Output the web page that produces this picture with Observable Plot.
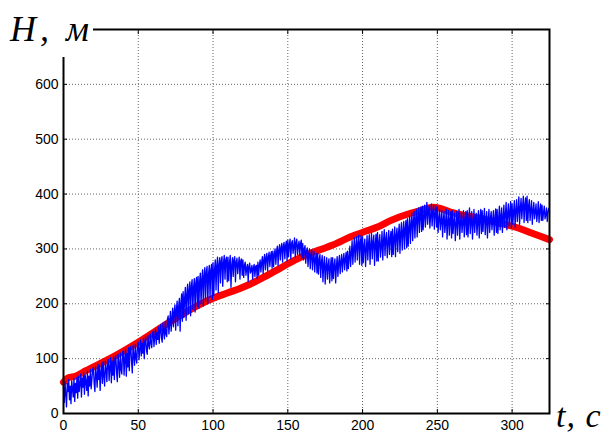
<!DOCTYPE html>
<html><head><meta charset="utf-8">
<script src="https://cdn.jsdelivr.net/npm/d3@7"></script>
<script src="https://cdn.jsdelivr.net/npm/@observablehq/plot@0.6"></script>
<style>body{margin:0;background:#fff;}</style>
</head><body><div id="chart"></div>
<script>
const xTicks = [0, 50, 100, 150, 200, 250, 300];
const yTicks = [0, 100, 200, 300, 400, 500, 600];
const xLabel = "t, с";
const yLabel = "H, м";

// red (smooth) curve
const redT = [0, 3, 8, 15, 31, 50, 70, 92, 100, 110, 118, 125, 135, 145, 155, 165, 173, 180, 192, 203, 210, 219, 232, 240, 247, 252, 260, 270, 280, 290, 303, 312, 318, 325];
const redH = [57, 65, 68, 78, 100, 130, 165, 200, 210, 220, 228, 236, 250, 265, 280, 292, 300, 307, 322, 333, 340, 352, 365, 371, 376, 374, 366, 360, 355, 348, 339, 330, 324, 317];

// blue (noisy) signal, two samples per second from t = 0
const blueStep = 0.5;
const blueH = [
  48, 20, 58, 35, 12, 55, 40, 62, 25, 50, 18, 60, 45, 30, 64, 22, 55, 38, 66, 28,
  68, 40, 55, 72, 30, 65, 48, 74, 35, 70, 58, 42, 77, 32, 68, 50, 80, 45, 62, 82,
  84, 55, 40, 86, 70, 48, 90, 62, 88, 42, 75, 92, 55, 94, 68, 50, 95, 80, 58, 97,
  98, 60, 85, 102, 56, 95, 70, 104, 62, 100, 106, 75, 58, 108, 90, 66, 110, 80, 72, 112,
  114, 70, 100, 117, 68, 110, 85, 120, 78, 118, 122, 95, 74, 124, 105, 88, 126, 100, 92, 128,
  130, 98, 118, 134, 105, 128, 110, 137, 100, 132, 140, 115, 108, 142, 125, 118, 145, 130, 120, 147,
  150, 122, 140, 154, 126, 148, 135, 158, 128, 152, 162, 138, 130, 165, 150, 136, 168, 145, 140, 172,
  178, 145, 165, 186, 150, 175, 192, 158, 185, 198, 152, 190, 205, 160, 195, 210, 150, 200, 218, 168,
  222, 175, 210, 230, 170, 218, 236, 182, 225, 240, 178, 232, 244, 190, 230, 246, 185, 238, 248, 195,
  250, 192, 240, 256, 200, 245, 262, 196, 252, 266, 205, 258, 268, 200, 255, 270, 212, 262, 272, 208,
  275, 215, 262, 280, 225, 270, 285, 220, 272, 284, 238, 278, 286, 232, 275, 288, 245, 280, 285, 240,
  285, 242, 275, 288, 230, 270, 284, 250, 280, 286, 240, 276, 283, 255, 272, 285, 245, 278, 282, 252,
  280, 248, 270, 276, 252, 265, 272, 240, 268, 274, 256, 262, 270, 245, 266, 272, 250, 268, 270, 246,
  276, 252, 270, 280, 258, 275, 286, 255, 280, 290, 262, 284, 292, 260, 285, 294, 268, 288, 295, 265,
  296, 268, 290, 300, 272, 295, 305, 270, 298, 308, 280, 302, 310, 276, 305, 312, 282, 306, 314, 278,
  316, 286, 308, 318, 282, 310, 315, 292, 305, 320, 285, 312, 318, 290, 306, 314, 288, 310, 316, 284,
  310, 280, 300, 306, 274, 296, 302, 268, 290, 300, 264, 288, 298, 262, 284, 295, 258, 282, 292, 256,
  292, 254, 280, 290, 248, 276, 288, 240, 272, 286, 236, 268, 284, 245, 270, 282, 238, 266, 284, 242,
  284, 246, 270, 282, 238, 268, 286, 250, 274, 288, 255, 276, 290, 258, 280, 292, 262, 282, 294, 260,
  296, 264, 285, 305, 268, 292, 315, 272, 300, 320, 276, 305, 322, 280, 310, 325, 272, 312, 324, 270,
  322, 275, 305, 318, 268, 300, 324, 280, 310, 326, 272, 306, 328, 282, 312, 325, 270, 308, 327, 278,
  330, 278, 312, 326, 285, 305, 332, 280, 315, 335, 288, 318, 330, 284, 312, 334, 290, 320, 332, 286,
  336, 290, 320, 340, 286, 325, 338, 295, 328, 345, 292, 330, 348, 298, 332, 350, 300, 336, 352, 302,
  355, 305, 338, 360, 310, 345, 365, 315, 350, 368, 320, 355, 372, 322, 358, 375, 330, 362, 376, 332,
  378, 335, 360, 380, 340, 365, 385, 345, 370, 378, 338, 362, 382, 342, 368, 380, 336, 365, 378, 340,
  376, 330, 355, 372, 335, 350, 370, 322, 352, 368, 330, 348, 372, 318, 350, 370, 325, 352, 368, 320,
  370, 328, 350, 365, 315, 345, 368, 325, 355, 372, 318, 350, 366, 330, 348, 370, 322, 352, 368, 326,
  370, 322, 352, 375, 328, 350, 368, 318, 348, 372, 330, 355, 365, 325, 350, 370, 320, 354, 372, 328,
  370, 332, 355, 374, 326, 352, 368, 320, 350, 372, 330, 356, 368, 335, 352, 370, 325, 355, 373, 330,
  372, 328, 356, 378, 335, 360, 375, 330, 358, 380, 340, 362, 385, 335, 365, 382, 342, 368, 386, 338,
  382, 345, 368, 388, 340, 370, 390, 350, 372, 395, 345, 375, 392, 355, 378, 396, 348, 380, 393, 352,
  396, 348, 378, 390, 352, 372, 388, 345, 370, 385, 355, 368, 382, 350, 366, 386, 348, 370, 382, 352,
  380, 352, 366, 378, 355, 362, 375, 350, 368, 374, 368
];

const red = redT.map((t, i) => ({t, h: redH[i]}));
const blue = blueH.map((h, i) => ({t: i * blueStep, h}));

const grid = {stroke: "#666", strokeOpacity: 1, strokeWidth: 1, strokeDasharray: "1,2"};

const plot = Plot.plot({
  width: 613, height: 436,
  marginLeft: 63, marginRight: 64, marginTop: 29, marginBottom: 23,
  x: {domain: [0, 325], label: null},
  y: {domain: [0, 700], label: null},
  style: {fontFamily: "'Liberation Sans', Arial, sans-serif", fontSize: "14px", color: "#000", background: "#fff", overflow: "visible"},
  marks: [
    Plot.gridX(xTicks, grid),
    Plot.gridY(yTicks, grid),
    Plot.line(red, {x: "t", y: "h", stroke: "#ff0000", strokeWidth: 7, curve: "monotone-x", strokeLinecap: "round"}),
    Plot.line(blue, {x: "t", y: "h", stroke: "#0000ff", strokeWidth: 1.3}),
    Plot.frame({stroke: "#000", strokeWidth: 2}),
    Plot.axisX(xTicks, {anchor: "bottom", tickSize: -4, tickPadding: 11, tickFormat: d => d}),
    Plot.axisY(yTicks, {anchor: "left", tickSize: -4, tickPadding: 9, tickFormat: d => d}),
    Plot.axisX(xTicks, {anchor: "top", tickSize: -4, fill: "none"}),
    Plot.axisY(yTicks, {anchor: "right", tickSize: -4, fill: "none"})
  ]
});

const svg = d3.select(plot);
svg.append("rect").attr("x", 0).attr("y", 0).attr("width", 93).attr("height", 57).attr("fill", "#fff");
svg.append("text").attr("x", 10).attr("y", 41).attr("text-anchor", "start")
  .attr("font-family", "'Liberation Serif', 'Times New Roman', serif")
  .attr("font-style", "italic").attr("font-size", 36).attr("fill", "#000")
  .attr("letter-spacing", 4)
  .text(yLabel);
svg.append("text").attr("x", 556).attr("y", 427).attr("text-anchor", "start")
  .attr("font-family", "'Liberation Serif', 'Times New Roman', serif")
  .attr("font-style", "italic").attr("font-size", 34).attr("fill", "#000")
  .attr("letter-spacing", 1)
  .text(xLabel);

document.getElementById("chart").appendChild(plot);
</script>
</body></html>
